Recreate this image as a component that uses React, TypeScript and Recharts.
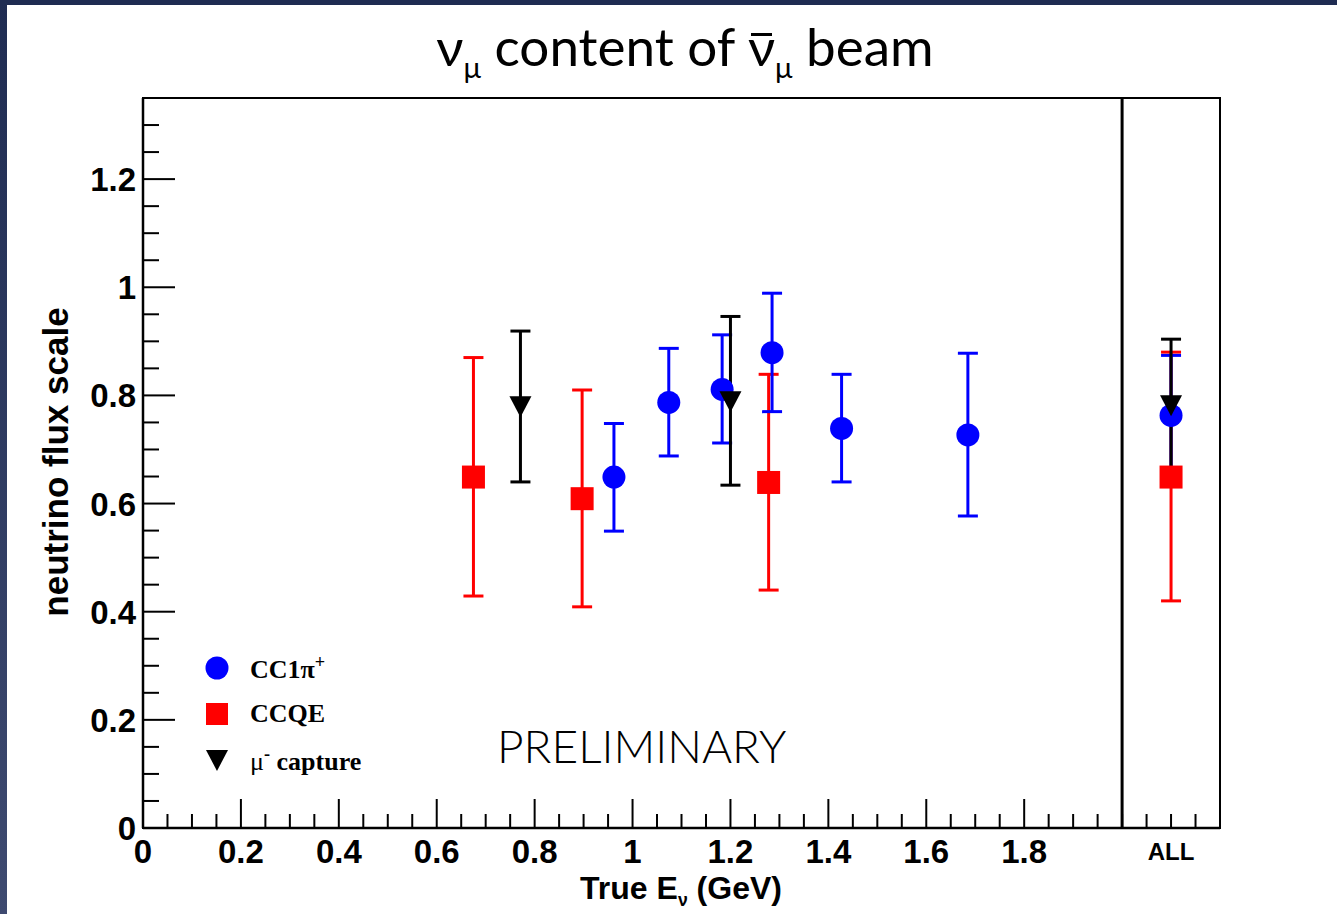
import React from 'react';
import { ScatterChart, Scatter, XAxis, YAxis, ErrorBar, ReferenceLine, ReferenceArea } from 'recharts';

// CC1pi+ (blue circles)
const ccpiX = [0.962, 1.074, 1.183, 1.285, 1.427, 1.685, 2.1];
const ccpiY = [0.649, 0.787, 0.811, 0.879, 0.739, 0.727, 0.763];
const ccpiLow = [0.549, 0.688, 0.712, 0.77, 0.64, 0.577, 0.652];
const ccpiHigh = [0.748, 0.887, 0.912, 0.989, 0.839, 0.878, 0.874];

// CCQE (red squares)
const ccqeX = [0.675, 0.897, 1.278, 2.1];
const ccqeY = [0.649, 0.609, 0.639, 0.649];
const ccqeLow = [0.429, 0.409, 0.44, 0.42];
const ccqeHigh = [0.87, 0.81, 0.839, 0.88];

// mu- capture (black triangles)
const muX = [0.771, 1.2, 2.1];
const muY = [0.78, 0.789, 0.782];
const muLow = [0.64, 0.634, 0.654];
const muHigh = [0.919, 0.946, 0.904];

const xMajorTicks = [0, 0.2, 0.4, 0.6, 0.8, 1, 1.2, 1.4, 1.6, 1.8];
const allTick = 2.1;
const yMajorTicks = [0, 0.2, 0.4, 0.6, 0.8, 1, 1.2];

const fine = (from: number, to: number) => {
  const out: number[] = [];
  for (let i = Math.round(from * 20); i <= Math.round(to * 20); i++) out.push(i / 20);
  return out;
};
const xTicks = fine(0, 2.15);
const yTicks = fine(0, 1.3);

const build = (xs: number[], ys: number[], lo: number[], hi: number[]) =>
  xs.map((x, i) => ({ x, y: ys[i], err: [ys[i] - lo[i], hi[i] - ys[i]] }));

const ccpiData = build(ccpiX, ccpiY, ccpiLow, ccpiHigh);
const ccqeData = build(ccqeX, ccqeY, ccqeLow, ccqeHigh);
const muData = build(muX, muY, muLow, muHigh);

const near = (a: number, b: number) => Math.abs(a - b) < 1e-6;
const fmt = (v: number) => String(Number(v.toFixed(1)));
const axisFont = '"Liberation Sans", Arial, Helvetica, sans-serif';
const gothic = 'Lato, "DejaVu Sans", sans-serif';

const XTick = (props: any) => {
  const { x, y, payload } = props;
  const v = payload.value;
  const major = xMajorTicks.some((m) => near(m, v));
  const isAll = near(v, allTick);
  return (
    <g>
      <line x1={x} x2={x} y1={y} y2={y - (major ? 29 : 14)} stroke="#000" strokeWidth={2} />
      {major && (
        <text x={x} y={y + 35} textAnchor="middle" fontFamily={axisFont} fontWeight="bold" fontSize={33} fill="#000">
          {fmt(v)}
        </text>
      )}
      {isAll && (
        <text x={x} y={y + 32} textAnchor="middle" fontFamily={axisFont} fontWeight="bold" fontSize={24} fill="#000">
          ALL
        </text>
      )}
    </g>
  );
};

const YTick = (props: any) => {
  const { x, y, payload } = props;
  const v = payload.value;
  const major = yMajorTicks.some((m) => near(m, v));
  return (
    <g>
      <line x1={x} x2={x + (major ? 32 : 16)} y1={y} y2={y} stroke="#000" strokeWidth={2} />
      {major && (
        <text x={x - 7} y={y + 12} textAnchor="end" fontFamily={axisFont} fontWeight="bold" fontSize={33} fill="#000">
          {fmt(v)}
        </text>
      )}
    </g>
  );
};

const Dot = (p: any) => <circle cx={p.cx} cy={p.cy} r={11.5} fill="#0000ff" />;
const Square = (p: any) => <rect x={p.cx - 11.5} y={p.cy - 11.5} width={23} height={23} fill="#ff0000" />;
const Tri = (p: any) => (
  <polygon points={`${p.cx - 11},${p.cy - 10} ${p.cx + 11},${p.cy - 10} ${p.cx},${p.cy + 11}`} fill="#000" />
);

const legendRows = [
  { label: <>CC1π<sup style={{ fontSize: '0.7em' }}>+</sup></>, mark: <circle cx={12} cy={12} r={11.5} fill="#0000ff" /> },
  { label: <>CCQE</>, mark: <rect x={1} y={1} width={22} height={22} fill="#ff0000" /> },
  {
    label: <><span style={{ fontWeight: 'normal' }}>μ</span><sup style={{ fontSize: '0.7em' }}>-</sup> capture</>,
    mark: <polygon points="1,2 23,2 12,23" fill="#000" />,
  },
];

export default function App() {
  return (
    <div style={{ position: 'absolute', left: 0, top: 0, width: 1337, height: 914, background: '#fff', overflow: 'hidden' }}>
      <div style={{ position: 'absolute', left: 0, top: 0, width: 1337, height: 5, background: '#1f2c52' }} />
      <div style={{ position: 'absolute', left: 0, top: 0, width: 7, height: 914, background: 'linear-gradient(#1f2c52, #3e4a70)' }} />

      <div
        style={{
          position: 'absolute', left: 0, width: 1370, top: 14, textAlign: 'center',
          fontFamily: gothic, fontWeight: 400, fontSize: 53, color: '#000', whiteSpace: 'nowrap',
        }}
      >
        ν<sub style={{ fontSize: '0.55em' }}>μ</sub> content of{' '}
        <span style={{ position: 'relative' }}>
          ν
          <span style={{ position: 'absolute', left: '0.06em', right: '0.06em', top: '0.36em', borderTop: '3px solid #000' }} />
        </span>
        <sub style={{ fontSize: '0.55em' }}>μ</sub> beam
      </div>

      <ScatterChart width={1337} height={914} margin={{ top: 98, right: 117, bottom: 0, left: 0 }} style={{ position: 'absolute', left: 0, top: 0 }}>
        <XAxis
          type="number" dataKey="x" domain={[0, 2.2]} ticks={xTicks} interval={0} allowDataOverflow
          tick={<XTick />} tickLine={false} tickSize={0} tickMargin={0} height={86}
          axisLine={{ stroke: '#000', strokeWidth: 2.5 }}
        />
        <YAxis
          type="number" dataKey="y" domain={[0, 1.35]} ticks={yTicks} interval={0} allowDataOverflow
          tick={<YTick />} tickLine={false} tickSize={0} tickMargin={0} width={143}
          axisLine={{ stroke: '#000', strokeWidth: 2.5 }}
        />
        <ReferenceArea x1={0} x2={2.2} y1={0} y2={1.35} fill="none" stroke="#000" strokeWidth={2} />
        <ReferenceLine x={2} stroke="#000" strokeWidth={3} />
        <Scatter data={ccqeData} shape={Square} isAnimationActive={false}>
          <ErrorBar dataKey="err" direction="y" width={10} strokeWidth={3} stroke="#ff0000" isAnimationActive={false} />
        </Scatter>
        <Scatter data={ccpiData} shape={Dot} isAnimationActive={false}>
          <ErrorBar dataKey="err" direction="y" width={10} strokeWidth={3} stroke="#0000ff" isAnimationActive={false} />
        </Scatter>
        <Scatter data={muData} shape={Tri} isAnimationActive={false}>
          <ErrorBar dataKey="err" direction="y" width={10} strokeWidth={3} stroke="#000" isAnimationActive={false} />
        </Scatter>
      </ScatterChart>

      <div
        style={{
          position: 'absolute', left: 55, top: 462, transform: 'translate(-50%, -50%) rotate(-90deg)',
          fontFamily: axisFont, fontWeight: 'bold', fontSize: 35, lineHeight: 1, whiteSpace: 'nowrap', color: '#000',
        }}
      >
        neutrino flux scale
      </div>

      <div
        style={{
          position: 'absolute', left: 0, width: 1362, top: 872, textAlign: 'center', lineHeight: 1,
          fontFamily: axisFont, fontWeight: 'bold', fontSize: 32, whiteSpace: 'nowrap', color: '#000',
        }}
      >
        True E<sub style={{ fontSize: '0.55em', lineHeight: 0 }}>ν</sub> (GeV)
      </div>

      <div style={{ position: 'absolute', left: 205, top: 645 }}>
        {legendRows.map((r, i) => (
          <div key={i} style={{ display: 'flex', alignItems: 'center', height: 46 }}>
            <svg width={24} height={24} style={{ marginRight: 21 }}>{r.mark}</svg>
            <span style={{ fontFamily: '"Liberation Serif", "Times New Roman", serif', fontWeight: 'bold', fontSize: 26, color: '#000' }}>
              {r.label}
            </span>
          </div>
        ))}
      </div>

      <div
        style={{
          position: 'absolute', left: 497, top: 718, fontFamily: gothic, fontWeight: 300,
          fontSize: 46, color: '#000', whiteSpace: 'nowrap',
        }}
      >
        PRELIMINARY
      </div>
    </div>
  );
}
